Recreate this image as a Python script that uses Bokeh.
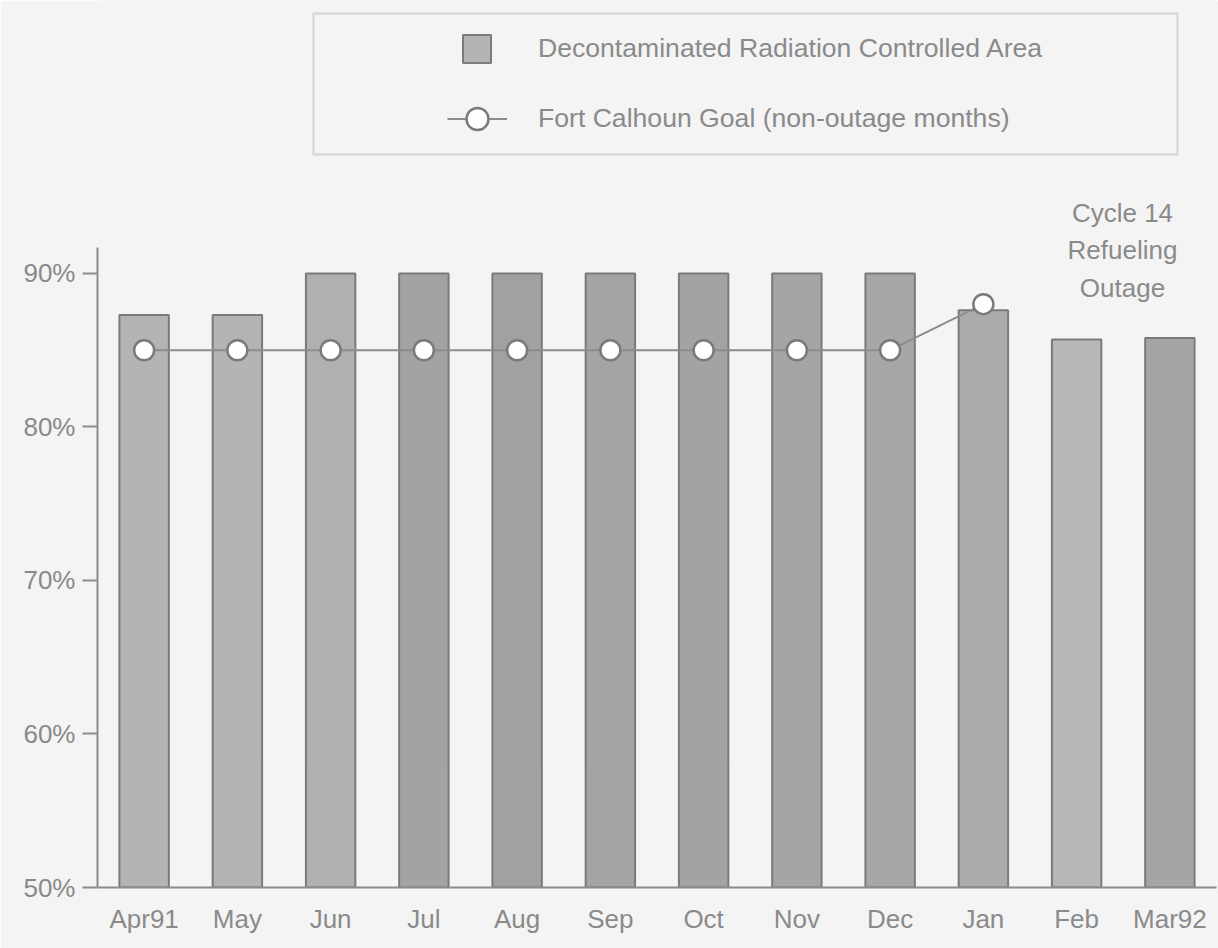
import math
from bokeh.plotting import figure
from bokeh.models import (ColumnDataSource, FactorRange, Range1d, Legend, LegendItem,
                          BoxAnnotation, Label, FixedTicker)
from bokeh.embed import file_html
from bokeh.resources import INLINE

# ---- data ----
months = ["Apr91", "May", "Jun", "Jul", "Aug", "Sep", "Oct", "Nov", "Dec", "Jan", "Feb", "Mar92"]
decon_pct = [87.3, 87.3, 90.0, 90.0, 90.0, 90.0, 90.0, 90.0, 90.0, 87.6, 85.7, 85.8]
goal_pct = [85.0, 85.0, 85.0, 85.0, 85.0, 85.0, 85.0, 85.0, 85.0, 88.0, float("nan"), float("nan")]
y_ticks = [50, 60, 70, 80, 90]
y_tick_labels = ["50%", "60%", "70%", "80%", "90%"]
bar_label = "Decontaminated Radiation Controlled Area"
goal_label = "Fort Calhoun Goal (non-outage months)"
note_text = "Cycle 14\nRefueling\nOutage"

# ---- styles ----
FONT = "Liberation Sans"
BG = "#f4f4f4"
INK = "#8a8a8a"
bar_fills = ["#b4b4b4", "#b4b4b4", "#b0b0b0", "#a3a3a3", "#a1a1a1", "#a4a4a4",
             "#a3a3a3", "#a5a5a5", "#a7a7a7", "#ababab", "#b7b7b7", "#a5a5a5"]

src = ColumnDataSource(dict(month=months, decon=decon_pct, goal=goal_pct, fill=bar_fills))

p = figure(width=1218, height=948, x_range=FactorRange(*months), y_range=Range1d(50, 107.78),
           output_backend="svg", toolbar_location=None,
           min_border_left=97, min_border_right=2, min_border_top=0, min_border_bottom=61,
           background_fill_color=BG, border_fill_color=BG, outline_line_color=None)

bars = p.vbar(x="month", top="decon", bottom=50, width=0.53, source=src,
              fill_color="fill", line_color="#7a7a7a", line_width=2)
gline = p.line(x="month", y="goal", source=src, line_color="#8c8c8c", line_width=2)
gdots = p.scatter(x="month", y="goal", source=src, marker="circle", size=20,
                  fill_color="white", line_color="#7a7a7a", line_width=2.5)

p.xgrid.visible = False
p.ygrid.visible = False

# axes
p.yaxis.ticker = FixedTicker(ticks=y_ticks)
p.yaxis.major_label_overrides = {t: l for t, l in zip(y_ticks, y_tick_labels)}
p.yaxis.bounds = (50, 91.7)
p.yaxis.minor_tick_line_color = None
p.yaxis.major_tick_out = 15
p.yaxis.major_tick_in = 0
p.yaxis.major_label_standoff = 7
for ax in (p.xaxis, p.yaxis):
    ax.axis_line_color = "#8c8c8c"
    ax.axis_line_width = 2
    ax.major_tick_line_color = "#8c8c8c"
    ax.major_tick_line_width = 2
    ax.major_label_text_font = FONT
    ax.major_label_text_font_size = "26px"
    ax.major_label_text_color = INK
p.xaxis.major_tick_out = 0
p.xaxis.major_tick_in = 0
p.xaxis.major_label_standoff = 16

# legend box
p.add_layout(BoxAnnotation(left=216, right=1080, bottom=733, top=874,
                           left_units="screen", right_units="screen",
                           bottom_units="screen", top_units="screen",
                           fill_alpha=0, line_color="#8c8c8c", line_width=2))

leg_a = Legend(items=[LegendItem(label=bar_label, renderers=[bars], index=0)],
               location=(362, 821), glyph_width=35, glyph_height=35, label_standoff=44,
               padding=0, spacing=0, border_line_color=None, background_fill_alpha=0,
               label_text_font=FONT, label_text_font_size="26.6px", label_text_color=INK)
leg_b = Legend(items=[LegendItem(label=goal_label, renderers=[gline, gdots], index=0)],
               location=(350, 741), glyph_width=60, glyph_height=55, label_standoff=31,
               padding=0, spacing=0, border_line_color=None, background_fill_alpha=0,
               label_text_font=FONT, label_text_font_size="26.6px", label_text_color=INK)
p.add_layout(leg_a)
p.add_layout(leg_b)

p.add_layout(Label(x=1025, y=690, x_units="screen", y_units="screen", text=note_text,
                   text_align="center", text_baseline="top", text_line_height=1.25,
                   text_font=FONT, text_font_size="26px", text_color=INK))

open("out.html", "w").write(file_html(p, INLINE))
